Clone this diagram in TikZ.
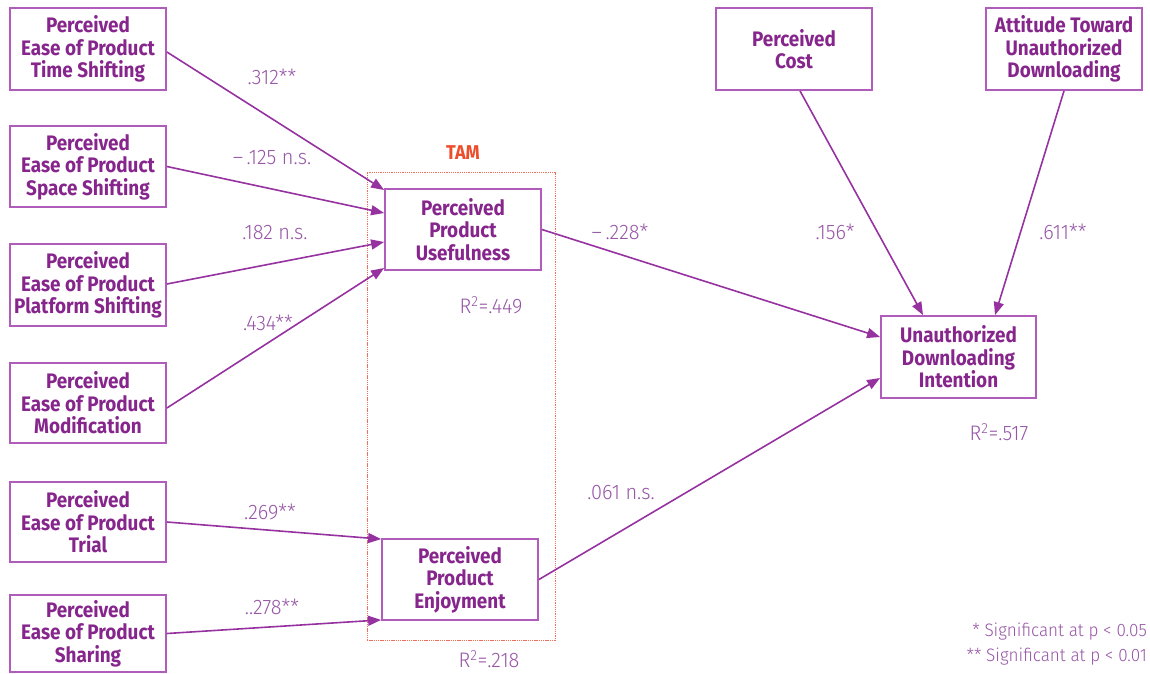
\documentclass[tikz,border=0pt]{standalone}
\usepackage{fontspec}
\setmainfont{Fira Sans}[BoldFeatures={FakeStretch=0.9}]
\newfontfamily\labfont{Fira Sans Light}[FakeStretch=0.95]
\usetikzlibrary{arrows.meta,calc}
\definecolor{txt}{RGB}{134,38,140}
\definecolor{boxc}{RGB}{176,92,186}
\definecolor{arrc}{RGB}{150,50,160}
\definecolor{labc}{RGB}{150,85,165}
\definecolor{tamc}{RGB}{236,78,44}
\definecolor{tamb}{RGB}{238,110,90}
\begin{document}
\begin{tikzpicture}[x=1pt,y=-1pt,
  box/.style={draw=boxc, line width=1.8pt, align=center, text=txt,
    font=\bfseries\fontsize{21}{22.5}\selectfont, inner sep=0pt,
    minimum width=156pt, minimum height=82pt},
  conn/.style={draw=arrc, line width=1.6pt, -{Triangle[length=13pt,width=10pt]}},
  lab/.style={text=labc, font=\labfont\fontsize{21}{23}\selectfont, inner sep=0pt},
  leg/.style={text=labc, font=\labfont\fontsize{18}{20}\selectfont, inner sep=0pt, anchor=east},
  tamframe/.style={draw=tamb, line width=1pt, dash pattern=on 1.3pt off 0.9pt,
    minimum width=188pt, minimum height=468pt, inner sep=0pt},
  tamlab/.style={text=tamc, font=\bfseries\fontsize{20}{22}\selectfont, inner sep=0pt}
]
\useasboundingbox (0,0) rectangle (1150,673);

% TAM frame
\node[tamframe] (tam) at (461,406) {};
\node[tamlab] (tamlbl) at (463,153) {TAM};

% left boxes
\node[box] (b1) at (88,49) {Perceived\\Ease of Product\\Time Shifting};
\node[box, minimum height=81pt] (b2) at (88,166.5) {Perceived\\Ease of Product\\Space Shifting};
\node[box] (b3) at (88,285) {Perceived\\Ease of Product\\Platform Shifting};
\node[box, minimum height=80pt] (b4) at (88,403) {Perceived\\Ease of Product\\Modification};
\node[box, minimum height=80pt] (b5) at (88,522) {Perceived\\Ease of Product\\Trial};
\node[box, minimum height=77pt] (b6) at (88,633.5) {Perceived\\Ease of Product\\Sharing};

% middle
\node[box, minimum height=81pt] (use) at (463,229.5) {Perceived\\Product\\Usefulness};
\node[box, minimum height=81pt] (enj) at (460,579.5) {Perceived\\Product\\Enjoyment};

% right
\node[box, minimum width=155pt] (una) at (958.5,357) {Unauthorized\\Downloading\\Intention};
\node[box] (cost) at (794,49) {Perceived\\Cost};
\node[box] (att) at (1064,49) {Attitude Toward\\Unauthorized\\Downloading};

% connectors
\draw[conn] ([yshift=-3pt]b1.east) -- ([yshift=39.5pt]use.west);
\draw[conn] (b2.east) -- ([yshift=16.5pt]use.west);
\draw[conn] ([yshift=1pt]b3.east) -- ([yshift=-12.5pt]use.west);
\draw[conn] ([yshift=-5pt]b4.east) -- ([yshift=-38.5pt]use.west);
\draw[conn] (b5.east) -- ([yshift=-1pt]enj.north west);
\draw[conn] (b6.east) -- ([yshift=1pt]enj.south west);
\draw[conn] (use.east) -- ([yshift=20pt]una.west);
\draw[conn] (enj.east) -- ([yshift=-21pt]una.west);
\draw[conn] ([xshift=6pt]cost.south) -- ([xshift=-35.5pt]una.north);
\draw[conn] (att.south) -- ([xshift=36.5pt]una.north);

% path labels
\node[lab] (l1) at (272,77) {.312**};
\node[lab] (l2) at (272,158) {–\,.125 n.s.};
\node[lab] (l3) at (275,233) {.182 n.s.};
\node[lab] (l4) at (268,323) {.434**};
\node[lab] (l5) at (270,512) {.269**};
\node[lab] (l6) at (272,607) {..278**};
\node[lab] (l7) at (620,232) {–\,.228*};
\node[lab] (l8) at (835,232) {.156*};
\node[lab] (l9) at (1063,232) {.611**};
\node[lab] (l10) at (621,493) {.061 n.s.};

% R squared
\node[lab] (r1) at (491,305) {R\textsuperscript{2}=.449};
\node[lab] (r2) at (489,659) {R\textsuperscript{2}=.218};
\node[lab] (r3) at (999,432) {R\textsuperscript{2}=.517};

% legend
\node[leg] (g1) at (1147,632) {* Significant at p < 0.05};
\node[leg] (g2) at (1147,657) {** Significant at p < 0.01};
\end{tikzpicture}
\end{document}
